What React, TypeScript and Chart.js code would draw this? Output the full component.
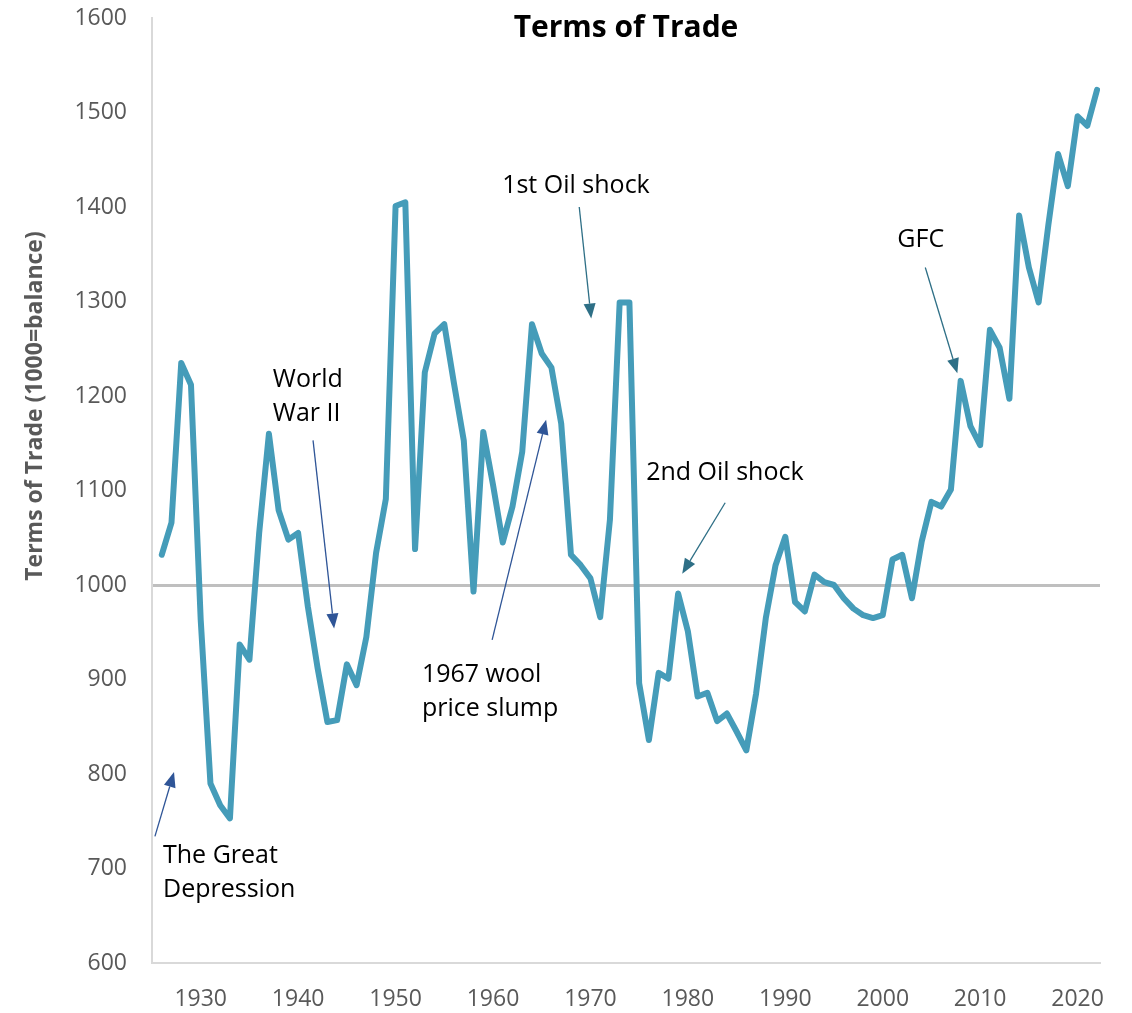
import React, { useEffect, useRef } from "react";
import { Chart, registerables } from "chart.js";

Chart.register(...registerables);

const years = [
  1926, 1927, 1928, 1929, 1930, 1931, 1932, 1933, 1934, 1935,
  1936, 1937, 1938, 1939, 1940, 1941, 1942, 1943, 1944, 1945,
  1946, 1947, 1948, 1949, 1950, 1951, 1952, 1953, 1954, 1955,
  1956, 1957, 1958, 1959, 1960, 1961, 1962, 1963, 1964, 1965,
  1966, 1967, 1968, 1969, 1970, 1971, 1972, 1973, 1974, 1975,
  1976, 1977, 1978, 1979, 1980, 1981, 1982, 1983, 1984, 1985,
  1986, 1987, 1988, 1989, 1990, 1991, 1992, 1993, 1994, 1995,
  1996, 1997, 1998, 1999, 2000, 2001, 2002, 2003, 2004, 2005,
  2006, 2007, 2008, 2009, 2010, 2011, 2012, 2013, 2014, 2015,
  2016, 2017, 2018, 2019, 2020, 2021, 2022,
];

const termsOfTrade = [
  1032, 1066, 1235, 1212, 963, 790, 767, 753, 937, 921,
  1055, 1160, 1079, 1048, 1055, 977, 912, 855, 857, 916,
  894, 945, 1034, 1091, 1401, 1405, 1038, 1225, 1266, 1276,
  1213, 1153, 993, 1162, 1106, 1045, 1083, 1141, 1276, 1245,
  1230, 1171, 1032, 1021, 1007, 966, 1069, 1299, 1299, 896,
  836, 907, 901, 991, 951, 882, 886, 856, 864, 845,
  825, 885, 965, 1021, 1051, 982, 972, 1011, 1003, 1000,
  986, 975, 968, 965, 968, 1027, 1032, 986, 1046, 1088,
  1083, 1101, 1216, 1168, 1148, 1270, 1251, 1197, 1391, 1336,
  1299, 1381, 1456, 1422, 1496, 1486, 1524,
];

const xTickYears = [1930, 1940, 1950, 1960, 1970, 1980, 1990, 2000, 2010, 2020];
const yTickValues = [600, 700, 800, 900, 1000, 1100, 1200, 1300, 1400, 1500, 1600];

const TITLE = "Terms of Trade";
const Y_TITLE = "Terms of Trade (1000=balance)";

// annotation texts: lines, anchor (year, value) of first line
const annotationTexts = [
  { lines: ["The Great", "Depression"], year: 1926.13, value: 713 },
  { lines: ["World", "War II"], year: 1937.4, value: 1217 },
  { lines: ["1967 wool", "price slump"], year: 1952.7, value: 905 },
  { lines: ["1st Oil shock"], year: 1960.94, value: 1422 },
  { lines: ["2nd Oil shock"], year: 1975.72, value: 1118.5 },
  { lines: ["GFC"], year: 2001.5, value: 1365 },
];

// arrows: from (year, value) to (year, value)
const arrowFromYear = [1925.3, 1941.53, 1959.91, 1968.85, 1983.83, 2004.37];
const arrowFromValue = [734, 1153, 942, 1400, 1087, 1336];
const arrowToYear = [1927.26, 1943.69, 1965.45, 1970.08, 1979.42, 2007.66];
const arrowToValue = [802, 954, 1175, 1282, 1012, 1224];
const arrowColors = ["#2F5597", "#2F5597", "#2F5597", "#2E6F86", "#2E6F86", "#2E6F86"];

const FONT = "'Open Sans', 'Noto Sans', sans-serif";

const overlayPlugin = {
  id: "overlay",
  afterDatasetsDraw(chart: any) {
    const { ctx, chartArea, scales } = chart;
    const xs = scales.x;
    const ys = scales.y;
    ctx.save();
    // title
    ctx.fillStyle = "#000000";
    ctx.font = `bold 30px ${FONT}`;
    ctx.textAlign = "center";
    ctx.textBaseline = "middle";
    ctx.fillText(TITLE, (chartArea.left + chartArea.right) / 2, 28);

    // y axis title
    ctx.save();
    ctx.translate(35, 406);
    ctx.rotate(-Math.PI / 2);
    ctx.fillStyle = "#595959";
    ctx.font = `bold 23px ${FONT}`;
    ctx.textAlign = "center";
    ctx.textBaseline = "middle";
    ctx.fillText(Y_TITLE, 0, 0);
    ctx.restore();

    // annotation texts
    ctx.fillStyle = "#000000";
    ctx.font = `25px ${FONT}`;
    ctx.textAlign = "left";
    ctx.textBaseline = "middle";
    annotationTexts.forEach((a) => {
      const x = xs.getPixelForValue(a.year);
      const y0 = ys.getPixelForValue(a.value);
      a.lines.forEach((line, i) => {
        ctx.fillText(line, x, y0 + i * 34);
      });
    });

    // arrows
    for (let i = 0; i < arrowFromYear.length; i++) {
      const x1 = xs.getPixelForValue(arrowFromYear[i]);
      const y1 = ys.getPixelForValue(arrowFromValue[i]);
      const x2 = xs.getPixelForValue(arrowToYear[i]);
      const y2 = ys.getPixelForValue(arrowToValue[i]);
      const ang = Math.atan2(y2 - y1, x2 - x1);
      const headLen = 15;
      const headW = 6;
      const bx = x2 - headLen * Math.cos(ang);
      const by = y2 - headLen * Math.sin(ang);
      ctx.strokeStyle = arrowColors[i];
      ctx.fillStyle = arrowColors[i];
      ctx.lineWidth = 1.3;
      ctx.beginPath();
      ctx.moveTo(x1, y1);
      ctx.lineTo(bx, by);
      ctx.stroke();
      ctx.beginPath();
      ctx.moveTo(x2, y2);
      ctx.lineTo(bx + headW * Math.sin(ang), by - headW * Math.cos(ang));
      ctx.lineTo(bx - headW * Math.sin(ang), by + headW * Math.cos(ang));
      ctx.closePath();
      ctx.fill();
    }
    ctx.restore();
  },
};

export default function App() {
  const canvasRef = useRef<HTMLCanvasElement | null>(null);

  useEffect(() => {
    document.body.style.margin = "0";
    const canvas = canvasRef.current;
    if (!canvas) return;
    const chart = new Chart(canvas, {
      type: "line",
      data: {
        datasets: [
          {
            label: TITLE,
            data: years.map((yr, i) => ({ x: yr, y: termsOfTrade[i] })),
            borderColor: "#459CB9",
            borderWidth: 6,
            pointRadius: 0,
            tension: 0,
            borderJoinStyle: "round",
            borderCapStyle: "round",
            fill: false,
          },
        ],
      },
      options: {
        animation: false,
        responsive: true,
        maintainAspectRatio: false,
        layout: { padding: { top: 18, right: 32, left: 0, bottom: 0 } },
        plugins: {
          legend: { display: false },
          title: { display: false },
          tooltip: { enabled: false },
        },
        scales: {
          x: {
            type: "linear",
            min: 1925,
            max: 2022.3,
            afterBuildTicks: (scale: any) => {
              scale.ticks = xTickYears.map((v) => ({ value: v }));
            },
            afterFit: (scale: any) => {
              scale.height = 50;
              scale.paddingLeft = 0;
              scale.paddingRight = 0;
            },
            ticks: {
              autoSkip: false,
              maxRotation: 0,
              padding: 23,
              color: "#595959",
              font: { family: FONT, size: 23 },
              callback: (v: any) => String(v),
            },
            grid: { display: false, drawTicks: false },
            border: { display: true, color: "#D9D9D9", width: 2 },
          },
          y: {
            type: "linear",
            min: 600,
            max: 1600,
            afterBuildTicks: (scale: any) => {
              scale.ticks = yTickValues.map((v) => ({ value: v }));
            },
            afterFit: (scale: any) => {
              scale.width = 152;
              scale.paddingTop = 0;
              scale.paddingBottom = 0;
            },
            ticks: {
              padding: 25,
              color: "#595959",
              font: { family: FONT, size: 23 },
              callback: (v: any) => String(v),
            },
            grid: {
              drawTicks: false,
              color: (c: any) => (c.tick && c.tick.value === 1000 ? "#BFBFBF" : "rgba(0,0,0,0)"),
              lineWidth: (c: any) => (c.tick && c.tick.value === 1000 ? 3 : 0),
            },
            border: { display: true, color: "#D9D9D9", width: 2 },
          },
        },
      },
      plugins: [overlayPlugin],
    });
    return () => chart.destroy();
  }, []);

  return (
    <div style={{ width: "1132px", height: "1013px", position: "relative" }}>
      <canvas ref={canvasRef} />
    </div>
  );
}
